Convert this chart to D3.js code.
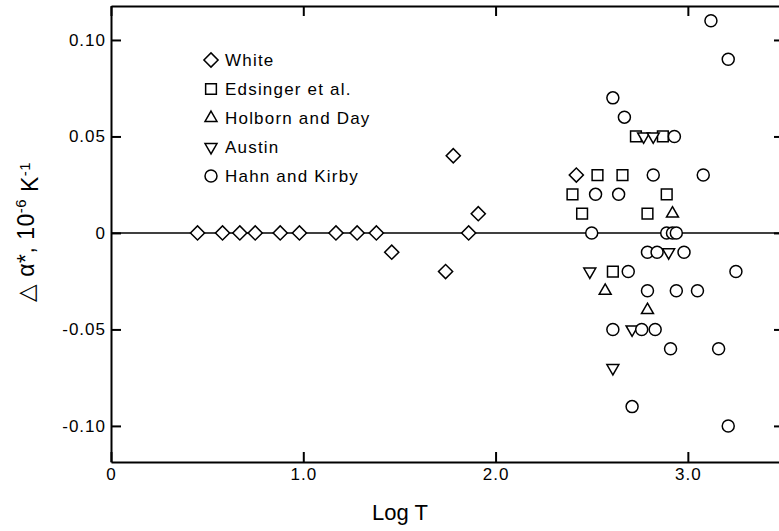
<!DOCTYPE html>
<html>
<head>
<meta charset="utf-8">
<script src="https://cdn.jsdelivr.net/npm/d3@7"></script>
<style>
  body { margin: 0; background: #fff; }
  text { font-family: "Liberation Sans", Arial, sans-serif; fill: #000; }
</style>
</head>
<body>
<div id="chart"></div>
<script>
// Data: [log T, delta alpha*]
const white = [[0.45, 0], [0.58, 0], [0.67, 0], [0.75, 0], [0.88, 0], [0.98, 0],
  [1.17, 0], [1.28, 0], [1.38, 0], [1.46, -0.01], [1.74, -0.02], [1.78, 0.04],
  [1.86, 0], [1.91, 0.01], [2.42, 0.03]];
const edsinger = [[2.40, 0.02], [2.45, 0.01], [2.53, 0.03], [2.61, -0.02], [2.66, 0.03],
  [2.73, 0.05], [2.79, 0.01], [2.87, 0.05], [2.89, 0.02]];
const holborn = [[2.92, 0.01], [2.57, -0.03], [2.79, -0.04]];
const austin = [[2.77, 0.05], [2.82, 0.05], [2.90, -0.01], [2.49, -0.02], [2.71, -0.05], [2.61, -0.07]];
const hahn = [[3.12, 0.11], [3.21, 0.09], [2.61, 0.07], [2.67, 0.06], [2.93, 0.05],
  [2.82, 0.03], [3.08, 0.03], [2.52, 0.02], [2.64, 0.02],
  [2.50, 0], [2.89, 0], [2.92, 0], [2.94, 0],
  [2.79, -0.01], [2.84, -0.01], [2.98, -0.01],
  [2.69, -0.02], [3.25, -0.02],
  [2.79, -0.03], [2.94, -0.03], [3.05, -0.03],
  [2.61, -0.05], [2.76, -0.05], [2.83, -0.05],
  [2.91, -0.06], [3.16, -0.06],
  [2.71, -0.09], [3.21, -0.10]];

const xTicks = [0, 1, 2, 3];
const xTickLabels = ["0", "1.0", "2.0", "3.0"];
const yTicks = [0.10, 0.05, 0, -0.05, -0.10];
const yTickLabels = ["0.10", "0.05", "0", "-0.05", "-0.10"];
const seriesNames = ["White", "Edsinger et al.", "Holborn and Day", "Austin", "Hahn and Kirby"];

let width = 779, height = 531;
let margin = {top: 6, left: 111};

var svg = d3.select("#chart")
  .append("svg")
    .attr("width", width)
    .attr("height", height);

var x = d3.scaleLinear().domain([0, 3.5]).range([margin.left, 784]);
var y = d3.scaleLinear().domain([-0.1187, 0.1176]).range([462, margin.top]);

// symbol paths: [shape, rotation]
const shapes = {
  "White": [d3.symbol().type(d3.symbolSquare).size(100)(), 45],
  "Edsinger et al.": [d3.symbol().type(d3.symbolSquare).size(115)(), 0],
  "Holborn and Day": [d3.symbol().type(d3.symbolTriangle).size(62)(), 0],
  "Austin": [d3.symbol().type(d3.symbolTriangle).size(62)(), 180],
  "Hahn and Kirby": [d3.symbol().type(d3.symbolCircle).size(113)(), 0]
};

// zero line
svg.append("line")
  .attr("x1", x(0)).attr("x2", x(3.5))
  .attr("y1", y(0)).attr("y2", y(0))
  .attr("stroke", "#000").attr("stroke-width", 1.4);

// axes, ticks pointing inward
svg.append("g")
  .attr("transform", "translate(0," + y.range()[0] + ")")
  .call(d3.axisBottom(x).tickValues(xTicks).tickFormat((d, i) => xTickLabels[i])
    .tickSizeInner(-10).tickSizeOuter(0).tickPadding(6));
svg.append("g")
  .attr("transform", "translate(0," + y.range()[1] + ")")
  .call(d3.axisTop(x).tickValues(xTicks).tickFormat("")
    .tickSizeInner(-10).tickSizeOuter(0));
svg.append("g")
  .attr("transform", "translate(" + x(0) + ",0)")
  .call(d3.axisLeft(y).tickValues(yTicks).tickFormat((d, i) => yTickLabels[i])
    .tickSizeInner(-10).tickSizeOuter(0).tickPadding(5));
svg.append("g")
  .attr("transform", "translate(" + x(3.5) + ",0)")
  .call(d3.axisRight(y).tickValues(yTicks).tickFormat("")
    .tickSizeInner(-10).tickSizeOuter(0));

svg.selectAll(".domain").attr("stroke-width", 2);
svg.selectAll(".tick line").attr("stroke-width", 2);
svg.selectAll(".tick text")
  .style("font-size", "17px")
  .style("letter-spacing", "1px")
  .attr("font-family", null);

// points
const allSeries = [white, edsinger, holborn, austin, hahn];
allSeries.forEach((data, i) => {
  let s = shapes[seriesNames[i]];
  svg.append("g")
    .selectAll(".point")
    .data(data)
    .enter()
    .append("path")
      .attr("class", "point")
      .attr("transform", d => `translate(${x(d[0])},${y(d[1])}) rotate(${s[1]})`)
      .attr("d", s[0])
      .attr("fill", "#fff")
      .attr("stroke", "#000")
      .attr("stroke-width", 1.5);
});

// legend
let legend = svg.append("g");
seriesNames.forEach((name, i) => {
  let s = shapes[name];
  let yy = 60 + i * 29;
  legend.append("path")
    .attr("transform", `translate(211,${yy}) rotate(${s[1]})`)
    .attr("d", s[0])
    .attr("fill", "#fff")
    .attr("stroke", "#000")
    .attr("stroke-width", 1.5);
  legend.append("text")
    .attr("x", 225)
    .attr("y", yy)
    .attr("dy", "0.36em")
    .style("font-size", "17px")
    .style("letter-spacing", "1.2px")
    .text(name);
});

// axis titles
svg.append("text")
  .attr("x", 400)
  .attr("y", 520)
  .attr("text-anchor", "middle")
  .style("font-size", "22px")
  .text("Log T");

let yl = svg.append("text")
  .attr("transform", "translate(34,232) rotate(-90)")
  .attr("text-anchor", "middle")
  .style("font-size", "23px")
  .style("letter-spacing", "0.5px");
yl.append("tspan").style("font-family", "DejaVu Sans").style("font-weight", "300").text("△");
yl.append("tspan").text(" α*, 10");
yl.append("tspan").attr("dy", "-0.55em").style("font-size", "15px").text("-6");
yl.append("tspan").attr("dy", "0.55em").text(" K");
yl.append("tspan").attr("dy", "-0.55em").style("font-size", "15px").text("-1");
</script>
</body>
</html>
